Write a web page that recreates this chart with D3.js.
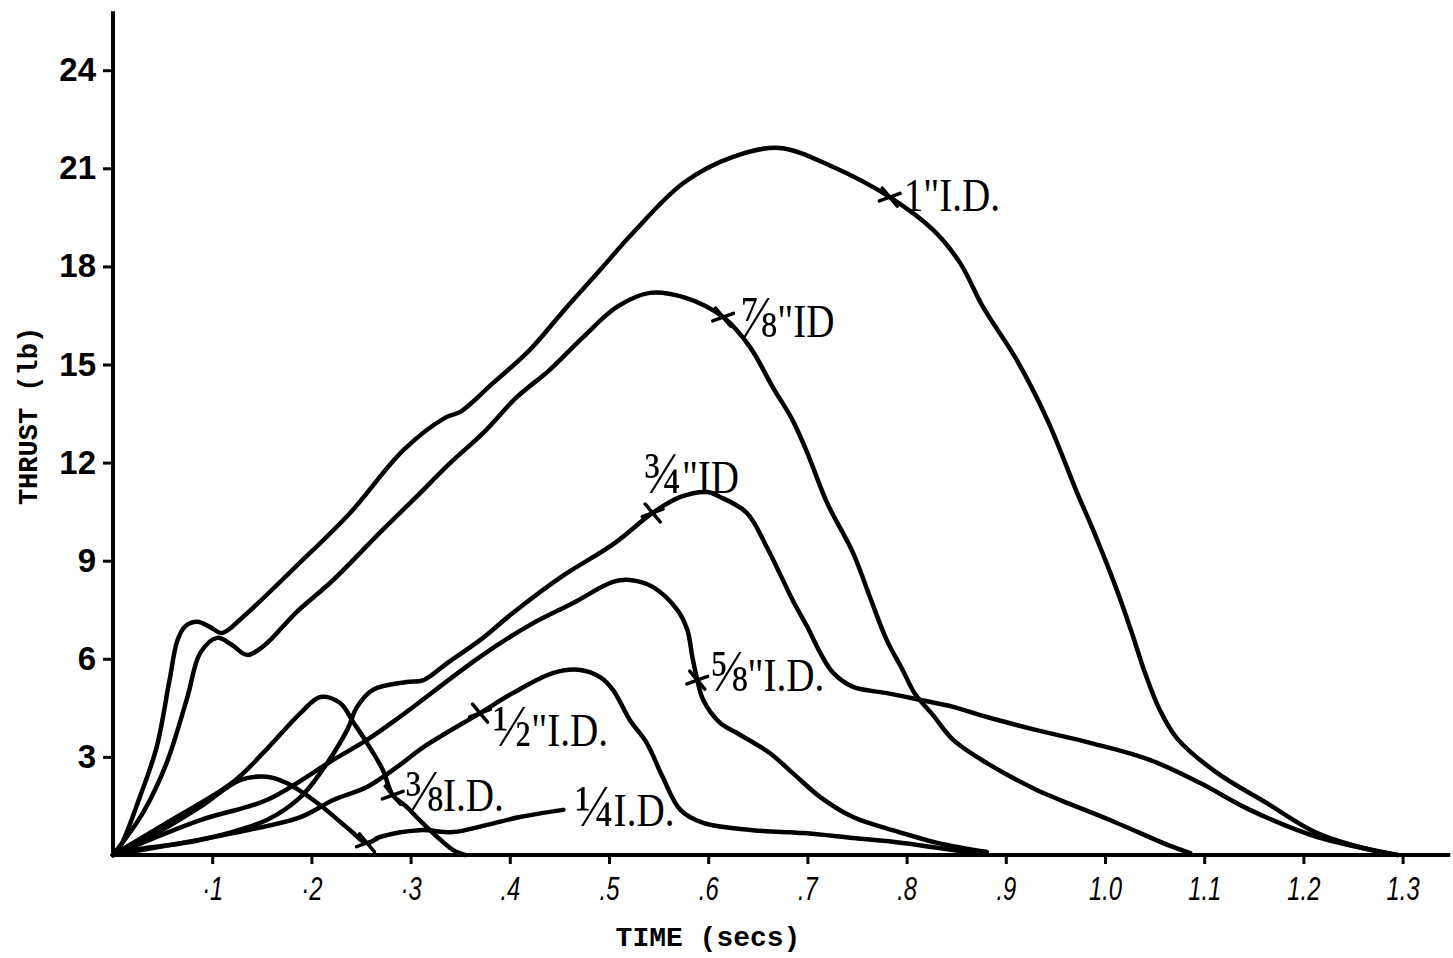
<!DOCTYPE html>
<html lang="en">
<head>
<meta charset="UTF-8">
<title>Thrust vs Time</title>
<style>
  body { margin: 0; background: #fff; }
  svg { display: block; }
  .curve { fill: none; stroke: #000; stroke-width: 4.5px; stroke-linejoin: round; stroke-linecap: round; }
  .axis-line { stroke: #000; stroke-width: 4px; }
  .tick line { stroke: #000; stroke-width: 3px; }
  .y-axis text { font-family: "Liberation Sans", Arial, sans-serif; font-weight: bold; font-size: 33px; fill: #000; }
  .x-axis text { font-family: "Liberation Sans", Arial, sans-serif; font-style: italic; font-size: 34px; fill: #000; }
  .marker { stroke: #000; stroke-width: 3.5px; stroke-linecap: round; }
  .label { font-family: "Liberation Serif", "DejaVu Serif", serif; font-size: 46px; fill: #000; }
  .label .frac { font-size: 60px; }
  .title { font-family: "Liberation Mono", "DejaVu Sans Mono", monospace; font-weight: bold; fill: #000; }
</style>
</head>
<body>
<div id="chart"></div>
<script src="https://d3js.org/d3.v7.min.js"></script>
<script>
const width = 1453;
const height = 958;

// thrust (lb) against time (secs), one pair of arrays per nozzle I.D.
const time1 = [0, .007, .027, .044, .057, .065, .073, .085, .098, .110, .131, .184, .239, .293, .336, .350, .383, .420, .455, .491, .524, .575, .625, .672, .726, .783, .827, .854, .877, .911, .942, .972, .988, 1.012, 1.027, 1.040, 1.055, 1.073, 1.113, 1.163, 1.214, 1.277, 1.295];
const thrust1 = [0, .24, 1.77, 3.30, 5.35, 6.57, 7.0, 7.13, 6.97, 6.79, 7.28, 8.81, 10.46, 12.39, 13.39, 13.55, 14.43, 15.44, 16.67, 17.89, 19.02, 20.55, 21.35, 21.62, 21.04, 20.12, 19.11, 18.10, 16.76, 15.14, 13.30, 11.07, 9.94, 8.10, 6.80, 5.60, 4.45, 3.55, 2.51, 1.59, .67, .09, 0];

const time78 = [0, .030, .054, .075, .088, .105, .120, .135, .153, .184, .222, .272, .306, .340, .373, .407, .440, .474, .508, .541, .575, .615, .642, .665, .685, .700, .720, .746, .763, .780, .796, .808, .826, .847, .881, .931, .955, 1.012, 1.063, 1.086];
const thrust78 = [0, 1.28, 2.81, 4.83, 6.18, 6.64, 6.42, 6.12, 6.42, 7.40, 8.41, 9.95, 10.96, 11.99, 12.90, 14.00, 14.83, 15.84, 16.76, 17.19, 17.06, 16.45, 15.54, 14.31, 13.30, 12.29, 10.76, 9.24, 7.89, 6.57, 5.66, 4.95, 4.30, 3.52, 2.81, 1.99, 1.68, .98, .31, .06];

const time34 = [0, .020, .088, .155, .189, .209, .236, .246, .262, .296, .313, .337, .370, .403, .454, .504, .544, .572, .599, .612, .639, .659, .672, .685, .700, .713, .726, .746, .780, .814, .847, .881, .931, .985, 1.045, 1.096, 1.146, 1.214, 1.280, 1.295];
const thrust34 = [0, .15, .46, 1.07, 1.77, 2.51, 3.82, 4.53, 5.05, 5.29, 5.35, 5.87, 6.57, 7.40, 8.55, 9.50, 10.46, 10.95, 11.10, 10.95, 10.46, 9.42, 8.62, 7.80, 6.97, 6.18, 5.57, 5.14, 4.95, 4.74, 4.53, 4.22, 3.82, 3.43, 2.91, 2.20, 1.38, .55, .09, 0];

const time58 = [0, .088, .155, .222, .256, .289, .370, .420, .464, .504, .521, .544, .569, .579, .584, .589, .595, .612, .629, .662, .685, .713, .746, .796, .831, .881];
const thrust58 = [0, 1.07, 1.68, 2.91, 3.52, 4.22, 6.06, 7.03, 7.71, 8.35, 8.41, 8.20, 7.49, 6.88, 6.06, 5.35, 4.74, 4.04, 3.73, 3.12, 2.51, 1.77, 1.16, .67, .37, .09];

const time12 = [0, .121, .189, .222, .256, .289, .313, .370, .403, .444, .471, .491, .504, .521, .538, .554, .572, .595, .645, .696, .746, .796, .847, .870];
const thrust12 = [0, .67, 1.16, 1.68, 2.08, 2.75, 3.30, 4.34, 4.95, 5.57, 5.66, 5.44, 5.05, 4.13, 3.43, 2.39, 1.38, .98, .76, .67, .52, .37, .15, .05];

const time38 = [0, .054, .121, .155, .189, .209, .229, .242, .256, .272, .282, .296, .309, .327, .343, .355];
const thrust38 = [0, .98, 2.23, 3.24, 4.34, 4.83, 4.65, 4.07, 3.43, 2.60, 1.83, 1.47, 1.07, .55, .15, 0];

const time14 = [0, .040, .088, .128, .155, .175, .206, .239, .256, .269, .309, .343, .377, .410, .454];
const thrust14 = [0, .60, 1.47, 2.29, 2.39, 2.20, 1.59, .76, .37, .55, .76, .70, .92, 1.16, 1.38];

// burnout marks (the little crosses) and curve labels
const fractions = ["1", "⅞", "¾", "⅝", "½", "⅜", "¼"];
const suffixes = ["\"I.D.", "\"ID", "\"ID", "\"I.D.", "\"I.D.", "I.D.", "I.D."];
const markerTime = [.783, .615, .544, .589, .370, .282, .256];
const markerThrust = [20.12, 16.45, 10.46, 5.35, 4.34, 1.83, .37];

const yTicks = [3, 6, 9, 12, 15, 18, 21, 24];
const xTicks = [.1, .2, .3, .4, .5, .6, .7, .8, .9, 1.0, 1.1, 1.2, 1.3];
const xTickLabels = ["·1", "·2", "·3", ".4", ".5", ".6", ".7", ".8", ".9", "1.0", "1.1", "1.2", "1.3"];

const times = [time1, time78, time34, time58, time12, time38, time14];
const thrusts = [thrust1, thrust78, thrust34, thrust58, thrust12, thrust38, thrust14];

// where each label sits relative to its anchor (pixels)
const labelOffsets = [[14, 14], [16, 20], [-9, -20], [12, 11], [13, 33], [12, 16], [12, 16]];

const x = d3.scaleLinear().domain([0, 1.3]).range([113, 1402.6]);
const y = d3.scaleLinear().domain([0, 24]).range([855, 70.2]);

const svg = d3.select("#chart").append("svg")
    .attr("width", width)
    .attr("height", height);

// axes
const yAxis = svg.append("g")
    .attr("class", "y-axis")
    .attr("transform", `translate(${x(0)},0)`)
    .call(d3.axisLeft(y).tickValues(yTicks).tickSize(10).tickPadding(7).tickFormat(d3.format("d")));
yAxis.select(".domain").remove();

const xAxis = svg.append("g")
    .attr("class", "x-axis")
    .attr("transform", `translate(0,${y(0)})`)
    .call(d3.axisBottom(x).tickValues(xTicks).tickSize(9).tickPadding(12)
        .tickFormat((d, i) => xTickLabels[i]));
xAxis.select(".domain").remove();
xAxis.selectAll("text").attr("transform", "scale(0.7,1)");

svg.append("line").attr("class", "axis-line")
    .attr("x1", x(0)).attr("x2", x(0))
    .attr("y1", y(0) + 2).attr("y2", y(25.8));
svg.append("line").attr("class", "axis-line")
    .attr("x1", x(0) - 2).attr("x2", x(1.348))
    .attr("y1", y(0)).attr("y2", y(0));

// curves
const line = d3.line()
    .x(d => x(d[0]))
    .y(d => y(d[1]))
    .curve(d3.curveCatmullRom.alpha(0.5));

times.forEach((ts, i) => {
    const pts = ts.map((t, j) => [t, thrusts[i][j]]);
    svg.append("path")
        .attr("class", "curve")
        .attr("d", line(pts));
});

// burnout crosses
markerTime.forEach((t, i) => {
    const cx = x(t), cy = y(markerThrust[i]);
    const g = svg.append("g").attr("transform", `translate(${cx},${cy}) rotate(-20)`);
    g.append("line").attr("class", "marker").attr("x1", -11).attr("x2", 11).attr("y1", 0).attr("y2", 0);
    g.append("line").attr("class", "marker").attr("x1", -4).attr("x2", 4).attr("y1", -11).attr("y2", 11);
});

// labels: the 1/4 label hangs off the end of its tail, the rest off the cross
fractions.forEach((f, i) => {
    let ax, ay;
    if (i === 6) {
        ax = x(time14[time14.length - 1]);
        ay = y(thrust14[thrust14.length - 1]);
    } else {
        ax = x(markerTime[i]);
        ay = y(markerThrust[i]);
    }
    const t = svg.append("text")
        .attr("class", "label")
        .attr("transform", `translate(${ax + labelOffsets[i][0]},${ay + labelOffsets[i][1]}) scale(0.85,1)`);
    t.append("tspan").attr("class", i === 0 ? null : "frac").text(f);
    t.append("tspan").text(suffixes[i]);
});

// axis titles
svg.append("text")
    .attr("class", "title")
    .attr("transform", `translate(37,416) rotate(-90)`)
    .attr("text-anchor", "middle")
    .attr("font-size", 27)
    .text("THRUST (lb)");

svg.append("text")
    .attr("class", "title")
    .attr("x", 708)
    .attr("y", 946)
    .attr("text-anchor", "middle")
    .attr("font-size", 28)
    .text("TIME (secs)");
</script>
</body>
</html>
